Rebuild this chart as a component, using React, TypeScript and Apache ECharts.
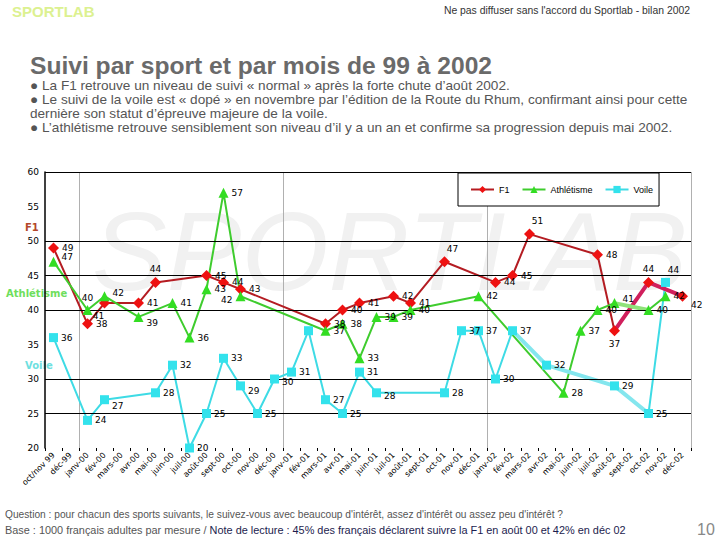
import React, { useEffect, useRef } from "react";
import * as echarts from "echarts";

const months = [
  "oct/nov 99", "déc-99", "janv-00", "fév-00", "mars-00", "avr-00", "mai-00", "juin-00",
  "juil-00", "août-00", "sept-00", "oct-00", "nov-00", "déc-00", "janv-01", "fév-01",
  "mars-01", "avr-01", "mai-01", "juin-01", "juil-01", "août-01", "sept-01", "oct-01",
  "nov-01", "déc-01", "janv-02", "fév-02", "mars-02", "avr-02", "mai-02", "juin-02",
  "juil-02", "août-02", "sept-02", "oct-02", "nov-02", "déc-02",
];

const f1 = [49, null, 38, 41, null, 41, 44, null, null, 45, 44, 43, null, null, null, null, 38, 40, 41, null, 42, 41, null, 47, null, null, 44, 45, 51, null, null, null, 48, 37, null, 44, null, 42];
const athletisme = [47, null, 40, 42, null, 39, null, 41, 36, 43, 57, 42, null, null, null, null, 37, 38, 33, 39, 39, 40, null, null, null, 42, null, null, null, null, 28, 37, 40, 41, null, 40, 42, null];
const voile = [36, null, 24, 27, null, null, 28, 32, 20, 25, 33, 29, 25, 30, 31, 37, 27, 25, 31, 28, null, null, null, 28, 37, 37, 30, 37, null, 32, null, null, null, 29, null, 25, 44, null];

const gridValues = [60, 50, 45, 40, 30, 25];
const yearBreaks = [2, 14, 26];

// indices of segments drawn with the heavier stroke
const f1Heavy = [33, 35, 37];
const athHeavy = [33, 35];
const voileHeavy = [27, 29, 33, 35];

// label placement overrides: [position, dx, dy]
const f1Pos: Record<number, [string, number, number]> = {
  3: ["bottom", -6, 0], 6: ["top", 0, 0], 23: ["top", 8, 0], 28: ["top", 8, 0],
  33: ["bottom", 0, 0], 35: ["top", 0, 0], 37: ["right", 0, 9],
};
const athPos: Record<number, [string, number, number]> = {
  0: ["right", 0, -5], 2: ["top", 0, 0], 3: ["right", 0, -3], 5: ["right", 0, 6],
  11: ["left", 0, 4], 33: ["right", 0, -4],
};
const voilePos: Record<number, [string, number, number]> = {
  3: ["right", 0, 6], 11: ["right", 0, 5], 13: ["right", 0, 3], 19: ["right", 0, 3],
  36: ["top", 8, 0], 15: ["none", 0, 0],
};

const LBL_FONT = "DejaVu Sans";

function lineSeries(name: string, data: (number | null)[], lineColor: string, markerColor: string, symbol: string, size: number) {
  return {
    type: "line",
    name,
    data,
    connectNulls: true,
    showSymbol: false,
    symbol,
    symbolSize: size,
    lineStyle: { color: lineColor, width: 2 },
    itemStyle: { color: markerColor },
    z: 2,
    silent: true,
    emphasis: { disabled: true },
  };
}

function heavySeries(id: string, data: (number | null)[], idx: number[], color: string, width: number) {
  return {
    type: "line",
    name: id,
    data: data.map((v, i) => (idx.includes(i) ? v : null)),
    connectNulls: true,
    symbol: "none",
    lineStyle: { color, width },
    z: 3,
    silent: true,
    emphasis: { disabled: true },
  };
}

function pointSeries(id: string, data: (number | null)[], color: string, symbol: string, size: number, pos: Record<number, [string, number, number]>) {
  const pts: any[] = [];
  data.forEach((v, i) => {
    if (v == null) return;
    const p = pos[i];
    const item: any = { value: [i, v] };
    if (p && p[0] === "none") item.label = { show: false };
    else if (p) item.label = { position: p[0], offset: [p[1], p[2]] };
    pts.push(item);
  });
  return {
    type: "scatter",
    name: id,
    data: pts,
    symbol,
    symbolSize: size,
    itemStyle: { color, opacity: 1 },
    label: {
      show: true,
      position: "right",
      distance: 3,
      fontSize: 9,
      fontFamily: LBL_FONT,
      color: "#000",
      formatter: (p: any) => String(p.value[1]),
    },
    z: 5,
    silent: true,
    emphasis: { disabled: true },
  };
}

export default function App() {
  const ref = useRef<HTMLDivElement>(null);
  useEffect(() => {
    if (!ref.current) return;
    const chart = echarts.init(ref.current, null, { renderer: "svg" });
    const option: any = {
      animation: false,
      backgroundColor: "#fff",
      textStyle: { fontFamily: LBL_FONT },
      grid: { left: 45, right: 29, top: 172, bottom: 92 },
      legend: {
        data: ["F1", "Athlétisme", "Voile"],
        left: 458,
        top: 173,
        padding: [12, 6, 12, 12],
        itemWidth: 23,
        itemHeight: 9,
        itemGap: 12,
        borderColor: "#000",
        borderWidth: 1,
        backgroundColor: "#fff",
        textStyle: { fontSize: 9, color: "#000", fontFamily: "Liberation Sans" },
        selectedMode: false,
      },
      xAxis: {
        type: "category",
        data: months,
        boundaryGap: true,
        axisLine: { show: false },
        axisTick: { show: true, interval: 0, length: 3, lineStyle: { color: "#000" } },
        axisLabel: { interval: 0, rotate: 45, fontSize: 8, color: "#000", margin: 6, fontFamily: LBL_FONT },
        splitLine: {
          show: true,
          interval: (i: number) => yearBreaks.includes(i),
          lineStyle: { color: "#b0b0b0", width: 1 },
        },
      },
      yAxis: {
        type: "value",
        min: 20,
        max: 60,
        interval: 5,
        axisLine: { show: true, lineStyle: { color: "#000", width: 1.5 } },
        axisTick: { show: false },
        axisLabel: { fontSize: 9, color: "#000", margin: 6, fontFamily: LBL_FONT },
        splitLine: { show: false },
      },
      series: [
        {
          type: "line",
          name: "grille",
          data: months.map(() => null),
          silent: true,
          symbol: "none",
          z: 1,
          markLine: {
            silent: true,
            symbol: ["none", "none"],
            label: { show: false },
            lineStyle: { color: "#000", width: 1.2, type: "solid" },
            data: gridValues.map((v) => ({ yAxis: v })),
          },
        },
        lineSeries("F1", f1, "#b41c22", "#ee1111", "diamond", 11),
        lineSeries("Athlétisme", athletisme, "#3fcc2e", "#33dd22", "triangle", 10),
        lineSeries("Voile", voile, "#3edbe5", "#33e2ec", "rect", 9),
        heavySeries("f1-h", f1, f1Heavy, "#d01f5c", 4),
        heavySeries("ath-h", athletisme, athHeavy, "#8fe27a", 4),
        heavySeries("voile-h", voile, voileHeavy, "#84e6ee", 4),
        pointSeries("f1-p", f1, "#ee1111", "diamond", 11, f1Pos),
        pointSeries("ath-p", athletisme, "#33dd22", "triangle", 10, athPos),
        pointSeries("voile-p", voile, "#33e2ec", "rect", 9, voilePos),
      ],
      graphic: [
        {
          type: "text", x: 92, y: 195, z: 0, silent: true,
          style: { text: "SPORTLAB", fill: "#f1f1f1", font: "italic 112px Liberation Sans" },
        },
        {
          type: "text", x: 12, y: 4, silent: true,
          style: { text: "SPORTLAB", fill: "#dcf190", font: "bold 15px Liberation Sans Narrow, Liberation Sans" },
        },
        {
          type: "text", x: 690, y: 5, silent: true,
          style: { text: "Ne pas diffuser sans l'accord du Sportlab - bilan 2002", fill: "#333", font: "10.4px Liberation Sans Narrow, Liberation Sans", textAlign: "right" },
        },
        {
          type: "text", x: 30, y: 53, silent: true,
          style: { text: "Suivi par sport et par mois de 99 à 2002", fill: "#6a6a6a", font: "bold 24.6px Liberation Sans" },
        },
        {
          type: "text", x: 30, y: 78, silent: true,
          style: {
            text: "● La F1 retrouve un niveau de suivi « normal » après la forte chute d’août 2002.\n● Le suivi de la voile est « dopé » en novembre par l’édition de la Route du Rhum, confirmant ainsi pour cette\ndernière son statut d’épreuve majeure de la voile.\n● L’athlétisme retrouve sensiblement son niveau d’il y a un an et confirme sa progression depuis mai 2002.",
            fill: "#555",
            font: "13.6px Liberation Sans",
            lineHeight: 14,
          },
        },
        {
          type: "text", x: 25, y: 222, silent: true,
          style: { text: "F1", fill: "#b4472a", font: "bold 10px DejaVu Sans" },
        },
        {
          type: "text", x: 6, y: 288, silent: true,
          style: { text: "Athlétisme", fill: "#6ede5c", font: "bold 10px DejaVu Sans" },
        },
        {
          type: "text", x: 25, y: 360, silent: true,
          style: { text: "Voile", fill: "#6ee0e0", font: "bold 10px DejaVu Sans" },
        },
        {
          type: "text", x: 5, y: 509, silent: true,
          style: {
            text: "Question : pour chacun des sports suivants, le suivez-vous avec beaucoup d'intérêt, assez d'intérêt ou assez peu d'intérêt ?",
            fill: "#555", font: "10.2px Liberation Sans",
          },
        },
        {
          type: "text", x: 5, y: 524, silent: true,
          style: {
            text: "{a|Base : 1000 français adultes par mesure / }{b|Note de lecture : 45% des français déclarent suivre la F1 en août 00 et 42% en déc 02}",
            font: "10.9px Liberation Sans",
            rich: {
              a: { fill: "#555", font: "10.9px Liberation Sans" },
              b: { fill: "#1c1c4e", font: "10.9px Liberation Sans" },
            },
          },
        },
        {
          type: "text", x: 697, y: 521, silent: true,
          style: { text: "10", fill: "#888", font: "16px Liberation Sans Narrow, Liberation Sans" },
        },
      ],
    };
    chart.setOption(option);
    return () => chart.dispose();
  }, []);
  return (
    <div
      ref={ref}
      style={{ position: "fixed", left: 0, top: 0, width: 720, height: 540 }}
    />
  );
}
